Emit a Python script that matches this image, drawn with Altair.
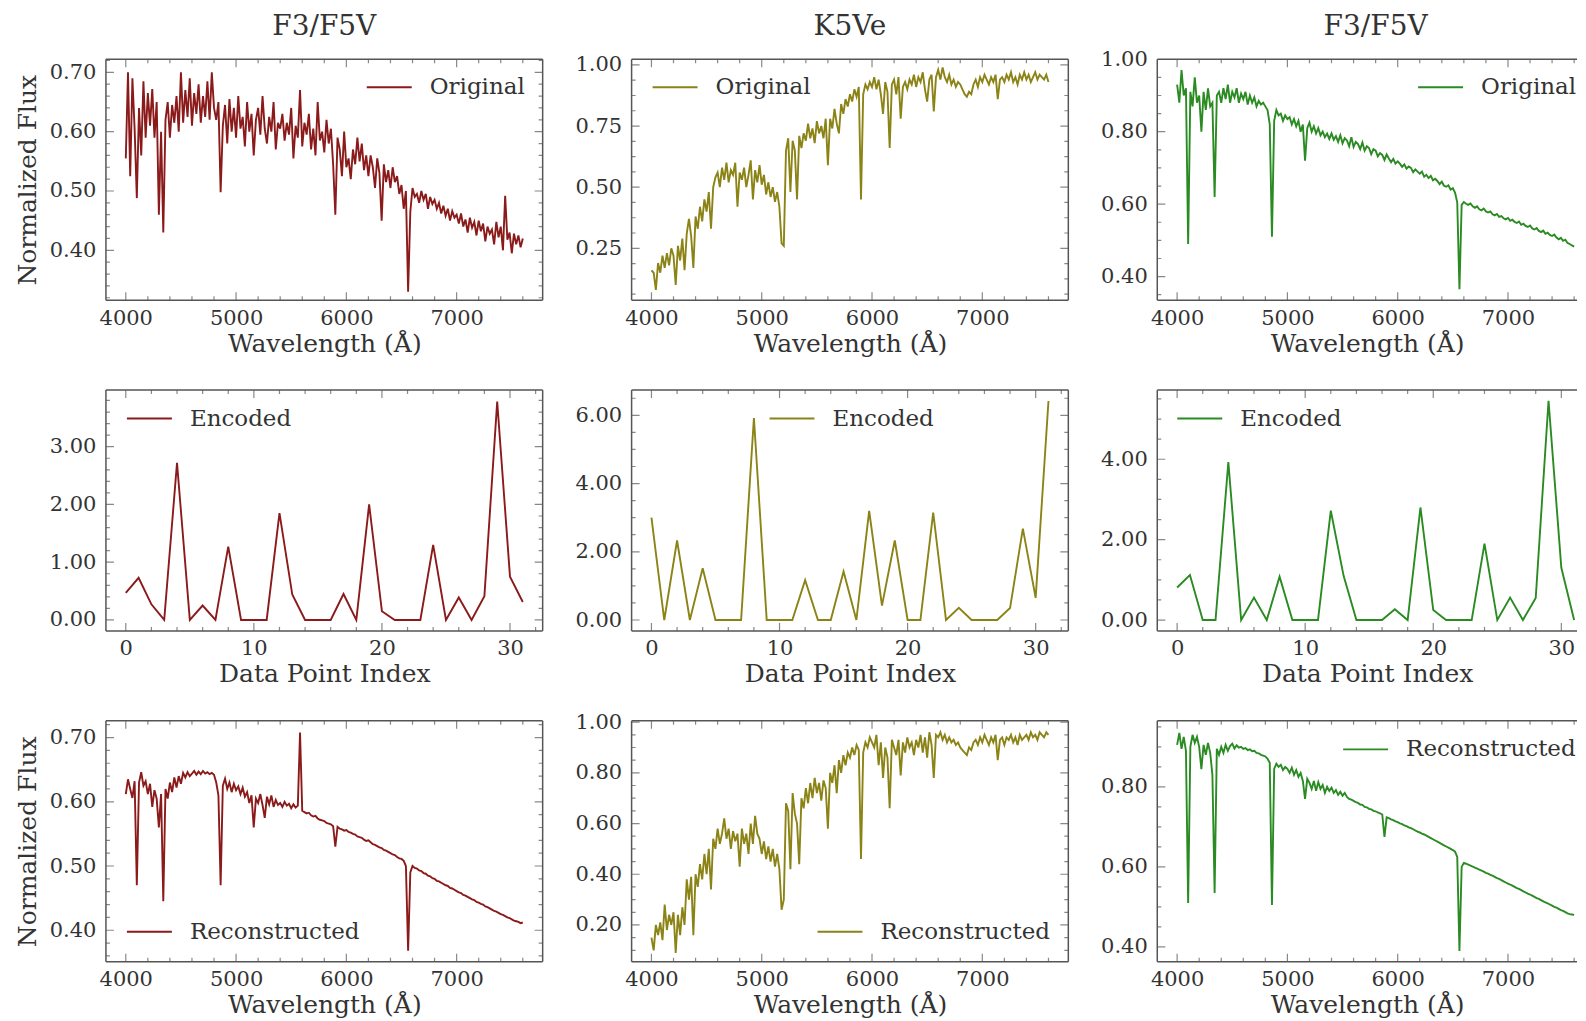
import altair as alt
import pandas as pd
import numpy as np

# ---------------- data ----------------
WAVE = list(range(4000, 7601, 20))   # wavelength grid (Å)
INDEX = list(range(32))               # encoded data point index

TITLES = ["F3/F5V", "K5Ve", "F3/F5V"]
COLORS = ["#8B1A1A", "#8B8316", "#2A8B22"]

ORIG_A = [
    0.555, 0.700, 0.525, 0.690, 0.605, 0.488, 0.640, 0.560, 0.685, 0.590,
    0.665, 0.610, 0.672, 0.590, 0.650, 0.460, 0.600, 0.430, 0.620, 0.650,
    0.590, 0.645, 0.615, 0.660, 0.600, 0.700, 0.615, 0.670, 0.625, 0.690,
    0.610, 0.665, 0.630, 0.680, 0.615, 0.660, 0.625, 0.685, 0.620, 0.700,
    0.640, 0.620, 0.650, 0.498, 0.610, 0.645, 0.580, 0.655, 0.600, 0.640,
    0.590, 0.660, 0.605, 0.625, 0.575, 0.650, 0.600, 0.630, 0.560, 0.620,
    0.640, 0.595, 0.660, 0.605, 0.580, 0.625, 0.600, 0.650, 0.570, 0.615,
    0.605, 0.630, 0.585, 0.615, 0.595, 0.640, 0.555, 0.610, 0.590, 0.670,
    0.575, 0.615, 0.595, 0.630, 0.570, 0.605, 0.560, 0.650, 0.585, 0.600,
    0.565, 0.620, 0.580, 0.605, 0.545, 0.460, 0.590, 0.570, 0.525, 0.600,
    0.540, 0.555, 0.520, 0.570, 0.545, 0.590, 0.550, 0.580, 0.535, 0.560,
    0.525, 0.560, 0.540, 0.505, 0.555, 0.530, 0.450, 0.545, 0.515, 0.535,
    0.505, 0.540, 0.515, 0.525, 0.495, 0.510, 0.470, 0.500, 0.330, 0.465,
    0.505, 0.490, 0.495, 0.480, 0.500, 0.485, 0.495, 0.470, 0.490, 0.478,
    0.485, 0.470, 0.480, 0.462, 0.475, 0.458, 0.470, 0.450, 0.466, 0.455,
    0.460, 0.445, 0.462, 0.440, 0.452, 0.430, 0.455, 0.438, 0.448, 0.425,
    0.450, 0.432, 0.445, 0.415, 0.440, 0.428, 0.435, 0.410, 0.448, 0.422,
    0.440, 0.400, 0.492, 0.418, 0.430, 0.395, 0.428, 0.410, 0.425, 0.405,
    0.420,
]
ORIG_K5 = [
    0.160, 0.150, 0.080, 0.190, 0.150, 0.220, 0.170, 0.230, 0.180, 0.250,
    0.220, 0.100, 0.260, 0.200, 0.290, 0.160, 0.310, 0.370, 0.300, 0.170,
    0.380, 0.330, 0.420, 0.360, 0.450, 0.400, 0.480, 0.330, 0.500, 0.540,
    0.560, 0.500, 0.580, 0.530, 0.600, 0.520, 0.570, 0.550, 0.600, 0.420,
    0.560, 0.530, 0.580, 0.500, 0.550, 0.610, 0.450, 0.570, 0.520, 0.590,
    0.510, 0.550, 0.470, 0.520, 0.460, 0.500, 0.440, 0.480, 0.420, 0.270,
    0.260, 0.650, 0.700, 0.480, 0.690, 0.650, 0.450, 0.710, 0.660, 0.720,
    0.690, 0.760, 0.700, 0.740, 0.680, 0.770, 0.720, 0.750, 0.700, 0.780,
    0.590, 0.780, 0.740, 0.820, 0.760, 0.720, 0.840, 0.800, 0.860, 0.830,
    0.880, 0.850, 0.900, 0.870, 0.910, 0.450, 0.880, 0.920, 0.900, 0.930,
    0.910, 0.950, 0.900, 0.940, 0.880, 0.800, 0.930, 0.890, 0.660, 0.920,
    0.940, 0.880, 0.950, 0.780, 0.910, 0.930, 0.900, 0.940, 0.920, 0.960,
    0.910, 0.950, 0.930, 0.970, 0.900, 0.850, 0.940, 0.960, 0.810, 0.950,
    0.980, 0.940, 0.990, 0.950, 0.930, 0.960, 0.920, 0.940, 0.910, 0.930,
    0.920, 0.900, 0.880, 0.870, 0.890, 0.880, 0.920, 0.940, 0.910, 0.950,
    0.930, 0.960, 0.940, 0.920, 0.950, 0.930, 0.960, 0.860, 0.940, 0.950,
    0.930, 0.960, 0.940, 0.970, 0.930, 0.950, 0.920, 0.960, 0.940, 0.970,
    0.940, 0.960, 0.930, 0.950, 0.970, 0.940, 0.960, 0.950, 0.940, 0.960,
    0.930,
]
ORIG_B = [
    0.930, 0.880, 0.970, 0.900, 0.920, 0.490, 0.910, 0.870, 0.950, 0.880,
    0.900, 0.800, 0.910, 0.860, 0.920, 0.870, 0.880, 0.620, 0.900, 0.910,
    0.880, 0.920, 0.890, 0.930, 0.880, 0.910, 0.895, 0.920, 0.880, 0.905,
    0.890, 0.910, 0.875, 0.900, 0.880, 0.895, 0.870, 0.885, 0.875, 0.880,
    0.870, 0.860, 0.820, 0.510, 0.830, 0.860, 0.845, 0.850, 0.830, 0.845,
    0.835, 0.840, 0.820, 0.835, 0.815, 0.830, 0.800, 0.820, 0.720, 0.810,
    0.825, 0.800, 0.815, 0.795, 0.810, 0.790, 0.800, 0.785, 0.795, 0.780,
    0.795, 0.778, 0.788, 0.772, 0.790, 0.768, 0.782, 0.776, 0.760, 0.785,
    0.758, 0.772, 0.766, 0.752, 0.770, 0.748, 0.760, 0.755, 0.738, 0.752,
    0.748, 0.732, 0.741, 0.736, 0.722, 0.737, 0.726, 0.716, 0.725, 0.712,
    0.718, 0.712, 0.703, 0.710, 0.698, 0.704, 0.700, 0.688, 0.696, 0.690,
    0.684, 0.690, 0.676, 0.681, 0.672, 0.678, 0.666, 0.670, 0.664, 0.655,
    0.662, 0.651, 0.648, 0.652, 0.640, 0.644, 0.632, 0.605, 0.365, 0.598,
    0.606, 0.601, 0.598, 0.602, 0.594, 0.590, 0.594, 0.586, 0.583, 0.588,
    0.580, 0.577, 0.580, 0.572, 0.569, 0.573, 0.565, 0.567, 0.561, 0.558,
    0.562, 0.554, 0.557, 0.551, 0.548, 0.552, 0.543, 0.546, 0.540, 0.537,
    0.541, 0.533, 0.530, 0.534, 0.526, 0.523, 0.527, 0.518, 0.521, 0.515,
    0.512, 0.516, 0.508, 0.503, 0.507, 0.499, 0.502, 0.493, 0.490, 0.486,
    0.483,
]

ENC_A = [0.47, 0.73, 0.27, 0.0, 2.72, 0.0, 0.25, 0.0, 1.27, 0.0, 0.0, 0.0,
         1.85, 0.44, 0.0, 0.0, 0.0, 0.45, 0.0, 2.0, 0.15, 0.0, 0.0, 0.0,
         1.30, 0.0, 0.39, 0.0, 0.41, 3.78, 0.75, 0.31]
ENC_K5 = [3.0, 0.0, 2.33, 0.0, 1.52, 0.0, 0.0, 0.0, 5.92, 0.0, 0.0, 0.0,
          1.17, 0.0, 0.0, 1.42, 0.0, 3.2, 0.42, 2.33, 0.0, 0.0, 3.15, 0.0,
          0.36, 0.0, 0.0, 0.0, 0.35, 2.68, 0.65, 6.42]
ENC_B = [0.81, 1.12, 0.0, 0.0, 3.93, 0.0, 0.56, 0.0, 1.08, 0.0, 0.0, 0.0,
         2.72, 1.10, 0.0, 0.0, 0.0, 0.27, 0.0, 2.80, 0.25, 0.0, 0.0, 0.0,
         1.90, 0.0, 0.56, 0.0, 0.55, 5.45, 1.30, 0.0]

REC_A = [
    0.612, 0.635, 0.620, 0.606, 0.632, 0.470, 0.630, 0.646, 0.625, 0.632,
    0.612, 0.628, 0.592, 0.618, 0.605, 0.560, 0.612, 0.445, 0.620, 0.605,
    0.630, 0.615, 0.638, 0.622, 0.640, 0.628, 0.645, 0.638, 0.646, 0.640,
    0.644, 0.648, 0.642, 0.647, 0.643, 0.648, 0.644, 0.646, 0.643, 0.645,
    0.642, 0.630, 0.610, 0.470, 0.625, 0.636, 0.620, 0.630, 0.615, 0.628,
    0.618, 0.624, 0.612, 0.622, 0.608, 0.615, 0.598, 0.610, 0.560, 0.605,
    0.598, 0.612, 0.595, 0.575, 0.608, 0.596, 0.610, 0.592, 0.603, 0.595,
    0.598, 0.592, 0.600, 0.594, 0.597, 0.590, 0.596, 0.591, 0.594, 0.708,
    0.586, 0.584, 0.582, 0.583, 0.579, 0.577, 0.578, 0.574, 0.572, 0.571,
    0.570, 0.567, 0.566, 0.565, 0.562, 0.530, 0.561, 0.558, 0.557, 0.555,
    0.556, 0.553, 0.552, 0.550, 0.549, 0.546, 0.545, 0.544, 0.541, 0.539,
    0.540, 0.537, 0.534, 0.533, 0.531, 0.529, 0.528, 0.525, 0.524, 0.522,
    0.520, 0.518, 0.517, 0.514, 0.512, 0.511, 0.508, 0.500, 0.368, 0.490,
    0.500, 0.497, 0.496, 0.493, 0.492, 0.489, 0.488, 0.485, 0.484, 0.481,
    0.480, 0.477, 0.476, 0.474, 0.472, 0.470, 0.469, 0.466, 0.465, 0.463,
    0.461, 0.459, 0.458, 0.455, 0.454, 0.452, 0.450, 0.448, 0.447, 0.444,
    0.443, 0.441, 0.440, 0.437, 0.436, 0.434, 0.432, 0.430, 0.429, 0.427,
    0.425, 0.424, 0.422, 0.420, 0.419, 0.417, 0.415, 0.414, 0.413, 0.411,
    0.412,
]
REC_K5 = [
    0.150, 0.100, 0.200, 0.160, 0.210, 0.140, 0.280, 0.180, 0.240, 0.200,
    0.250, 0.090, 0.240, 0.160, 0.270, 0.200, 0.380, 0.300, 0.390, 0.160,
    0.400, 0.350, 0.440, 0.380, 0.480, 0.400, 0.500, 0.340, 0.540, 0.500,
    0.580, 0.520, 0.560, 0.620, 0.540, 0.580, 0.500, 0.570, 0.530, 0.560,
    0.430, 0.580, 0.520, 0.560, 0.480, 0.600, 0.520, 0.630, 0.560, 0.540,
    0.480, 0.530, 0.460, 0.510, 0.450, 0.500, 0.430, 0.480, 0.420, 0.260,
    0.300, 0.680, 0.650, 0.420, 0.720, 0.640, 0.600, 0.440, 0.700, 0.660,
    0.740, 0.680, 0.760, 0.700, 0.780, 0.720, 0.760, 0.690, 0.770, 0.740,
    0.580, 0.800, 0.760, 0.830, 0.720, 0.850, 0.800, 0.870, 0.830, 0.880,
    0.860, 0.900, 0.870, 0.910, 0.890, 0.460, 0.880, 0.920, 0.900, 0.940,
    0.920, 0.900, 0.950, 0.830, 0.920, 0.780, 0.900, 0.860, 0.660, 0.930,
    0.900, 0.870, 0.930, 0.790, 0.920, 0.880, 0.940, 0.900, 0.920, 0.870,
    0.930, 0.900, 0.950, 0.880, 0.940, 0.860, 0.960, 0.910, 0.780, 0.950,
    0.940, 0.960, 0.930, 0.950, 0.920, 0.940, 0.920, 0.930, 0.910, 0.920,
    0.900, 0.890, 0.880, 0.870, 0.900, 0.890, 0.920, 0.930, 0.910, 0.940,
    0.920, 0.950, 0.930, 0.910, 0.940, 0.920, 0.950, 0.850, 0.930, 0.940,
    0.910, 0.940, 0.930, 0.950, 0.920, 0.940, 0.910, 0.950, 0.930, 0.940,
    0.950, 0.930, 0.960, 0.940, 0.950, 0.930, 0.960, 0.950, 0.940, 0.960,
    0.950,
]
REC_B = [
    0.905, 0.935, 0.895, 0.925, 0.890, 0.510, 0.900, 0.930, 0.910, 0.925,
    0.900, 0.844, 0.905, 0.880, 0.910, 0.885, 0.830, 0.535, 0.895, 0.880,
    0.900, 0.885, 0.905, 0.890, 0.902, 0.908, 0.896, 0.904, 0.898, 0.900,
    0.895, 0.897, 0.892, 0.894, 0.889, 0.890, 0.885, 0.884, 0.880, 0.878,
    0.876, 0.870, 0.860, 0.505, 0.845, 0.858, 0.850, 0.855, 0.842, 0.850,
    0.845, 0.835, 0.848, 0.830, 0.842, 0.825, 0.835, 0.815, 0.770, 0.820,
    0.810, 0.795, 0.815, 0.790, 0.812, 0.795, 0.805, 0.785, 0.800, 0.790,
    0.798, 0.785, 0.792, 0.780, 0.788, 0.778, 0.785, 0.775, 0.770, 0.768,
    0.765, 0.762, 0.760, 0.756, 0.755, 0.750, 0.749, 0.745, 0.744, 0.740,
    0.739, 0.736, 0.734, 0.731, 0.675, 0.724, 0.722, 0.719, 0.717, 0.714,
    0.712, 0.709, 0.707, 0.704, 0.702, 0.699, 0.697, 0.694, 0.691, 0.688,
    0.686, 0.683, 0.681, 0.678, 0.675, 0.672, 0.669, 0.666, 0.663, 0.660,
    0.657, 0.654, 0.651, 0.648, 0.645, 0.642, 0.638, 0.625, 0.390, 0.600,
    0.610, 0.608, 0.606, 0.603, 0.601, 0.598, 0.596, 0.593, 0.591, 0.588,
    0.585, 0.583, 0.580, 0.578, 0.575, 0.572, 0.570, 0.567, 0.564, 0.561,
    0.558, 0.556, 0.553, 0.550, 0.547, 0.545, 0.542, 0.539, 0.536, 0.533,
    0.531, 0.528, 0.525, 0.522, 0.520, 0.517, 0.514, 0.511, 0.509, 0.506,
    0.503, 0.500, 0.498, 0.495, 0.492, 0.490, 0.487, 0.484, 0.482, 0.481,
    0.480,
]

# tick label positions
XMAJ_WAVE = [4000, 5000, 6000, 7000]
XMAJ_IDX = [0, 10, 20, 30]
YMAJ = [
    [0.40, 0.50, 0.60, 0.70], [0.25, 0.50, 0.75, 1.00], [0.40, 0.60, 0.80, 1.00],
    [0.0, 1.0, 2.0, 3.0], [0.0, 2.0, 4.0, 6.0], [0.0, 2.0, 4.0],
    [0.40, 0.50, 0.60, 0.70], [0.20, 0.40, 0.60, 0.80, 1.00], [0.40, 0.60, 0.80],
]

# ---------------- styling ----------------
FONT = "DejaVu Serif"
FRAME = "#555555"
TXT = "#333333"
W = 437          # full panel width
W_RIGHT = 420    # right column is cut by the page edge, as in the reference
H = 241


def minor_ticks(lo, hi, step, majors):
    start = np.ceil(lo / step) * step
    vals = np.round(np.arange(start, hi + 1e-9, step), 6)
    return [float(v) for v in vals if all(abs(v - m) > 1e-6 for m in majors)]


def panel(xs, ys, label, color, xdom, ydom, xmaj, xstep, ymaj, ystep,
          xtitle, ytitle, leg, title=None, right=False):
    w = W_RIGHT if right else W
    # keep the same pixel scale in the narrower (cut) right column
    if right:
        xdom = [xdom[0], xdom[0] + (xdom[1] - xdom[0]) * W_RIGHT / W]
    n = len(xs)
    df = pd.DataFrame({"x": xs, "y": ys, "series": [label] * n})
    xscale = alt.Scale(domain=xdom, nice=False, zero=False)
    yscale = alt.Scale(domain=ydom, nice=False, zero=False)
    xaxis = alt.Axis(values=xmaj, title=xtitle, format="d", labelPadding=7,
                     titlePadding=3, labelFlush=False, labelOverlap=False)
    yaxis = alt.Axis(values=ymaj, title=ytitle, format=".2f", labelPadding=10,
                     titlePadding=9, labelFlush=False, labelOverlap=False)
    X = alt.X("x:Q", scale=xscale, axis=xaxis)
    Y = alt.Y("y:Q", scale=yscale, axis=yaxis)

    line = alt.Chart(df).mark_line(clip=True, strokeWidth=1.9).encode(
        x=X, y=Y,
        color=alt.Color("series:N", scale=alt.Scale(domain=[label], range=[color]),
                        legend=alt.Legend(orient="none", legendX=leg[0], legendY=leg[1] - 22.5,
                                          title=None, symbolType="stroke", symbolSize=2025,
                                          symbolStrokeWidth=1.9, labelOffset=17, padding=0,
                                          labelLimit=0)),
    )

    xmin = minor_ticks(xdom[0], xdom[1], xstep, xmaj)
    ymin = minor_ticks(ydom[0], ydom[1], ystep, ymaj)
    xt = pd.DataFrame({"x": xmaj + xmin, "len": [16] * len(xmaj) + [8] * len(xmin)})
    yt = pd.DataFrame({"y": ymaj + ymin, "len": [16] * len(ymaj) + [8] * len(ymin)})
    tick = dict(clip=True, color=FRAME, thickness=1.2)
    size = alt.Size("len:Q", scale=None, legend=None)
    layers = [line]
    layers.append(alt.Chart(xt).mark_tick(**tick).encode(x=X, y=alt.value(H), size=size))
    layers.append(alt.Chart(xt).mark_tick(**tick).encode(x=X, y=alt.value(0), size=size))
    layers.append(alt.Chart(yt).mark_tick(**tick).encode(y=Y, x=alt.value(0), size=size))
    if not right:
        layers.append(alt.Chart(yt).mark_tick(**tick).encode(y=Y, x=alt.value(w), size=size))

    one = pd.DataFrame({"k": [0]})
    rule = dict(color=FRAME, strokeWidth=1.5)
    layers.append(alt.Chart(one).mark_rule(**rule).encode(x=alt.value(0), x2=alt.value(w), y=alt.value(0)))
    layers.append(alt.Chart(one).mark_rule(**rule).encode(x=alt.value(0), x2=alt.value(w), y=alt.value(H)))
    layers.append(alt.Chart(one).mark_rule(**rule).encode(x=alt.value(0), y=alt.value(0), y2=alt.value(H)))
    if not right:
        layers.append(alt.Chart(one).mark_rule(**rule).encode(x=alt.value(w), y=alt.value(0), y2=alt.value(H)))

    if title is not None:
        layers.append(
            alt.Chart(one).mark_text(text=title, font=FONT, fontSize=28, color=TXT,
                                     align="center", baseline="alphabetic")
            .encode(x=alt.value(W / 2), y=alt.value(-24))
        )
    return alt.layer(*layers).properties(width=w, height=H)


WAVE_DOM = [3820, 7780]
IDX_DOM = [-1.55, 32.55]
WT = "Wavelength (Å)"
IT = "Data Point Index"
YT = "Normalized Flux"

panels = [
    panel(WAVE, ORIG_A, "Original", COLORS[0], WAVE_DOM, [0.316, 0.722], XMAJ_WAVE, 200,
          YMAJ[0], 0.02, WT, YT, (260, 27), title=TITLES[0]),
    panel(WAVE, ORIG_K5, "Original", COLORS[1], WAVE_DOM, [0.038, 1.023], XMAJ_WAVE, 200,
          YMAJ[1], 0.0625, WT, None, (20, 27), title=TITLES[1]),
    panel(WAVE, ORIG_B, "Original", COLORS[2], WAVE_DOM, [0.335, 1.0], XMAJ_WAVE, 200,
          YMAJ[2], 0.05, WT, None, (260, 27), title=TITLES[2], right=True),
    panel(INDEX, ENC_A, "Encoded", COLORS[0], IDX_DOM, [-0.19, 3.98], XMAJ_IDX, 2,
          YMAJ[3], 0.2, IT, None, (20, 27.5)),
    panel(INDEX, ENC_K5, "Encoded", COLORS[1], IDX_DOM, [-0.32, 6.74], XMAJ_IDX, 2,
          YMAJ[4], 0.5, IT, None, (137, 27.5)),
    panel(INDEX, ENC_B, "Encoded", COLORS[2], IDX_DOM, [-0.27, 5.72], XMAJ_IDX, 2,
          YMAJ[5], 0.5, IT, None, (19, 27.5), right=True),
    panel(WAVE, REC_A, "Reconstructed", COLORS[0], WAVE_DOM, [0.351, 0.726], XMAJ_WAVE, 200,
          YMAJ[6], 0.02, WT, YT, (20, 210)),
    panel(WAVE, REC_K5, "Reconstructed", COLORS[1], WAVE_DOM, [0.055, 1.005], XMAJ_WAVE, 200,
          YMAJ[7], 0.05, WT, None, (185, 210)),
    panel(WAVE, REC_B, "Reconstructed", COLORS[2], WAVE_DOM, [0.363, 0.965], XMAJ_WAVE, 200,
          YMAJ[8], 0.05, WT, None, (185, 27.5), right=True),
]

chart = (
    alt.concat(*panels, columns=3, spacing={"column": 89, "row": 90}, bounds="flush", align="each")
    .resolve_scale(x="independent", y="independent", color="independent", size="independent")
    .resolve_legend(color="independent", size="independent")
    .properties(padding={"left": 7, "top": 5, "right": 0, "bottom": 0})
    .configure_view(stroke=None)
    .configure_axis(labelFont=FONT, labelFontSize=21, labelColor=TXT, titleFont=FONT,
                    titleFontSize=25, titleFontWeight="normal", titleColor=TXT,
                    grid=False, domain=False, ticks=False, tickSize=0)
    .configure_legend(labelFont=FONT, labelFontSize=23, labelColor=TXT)
)

chart.save("out.html", embed_options={"renderer": "svg", "actions": False})
